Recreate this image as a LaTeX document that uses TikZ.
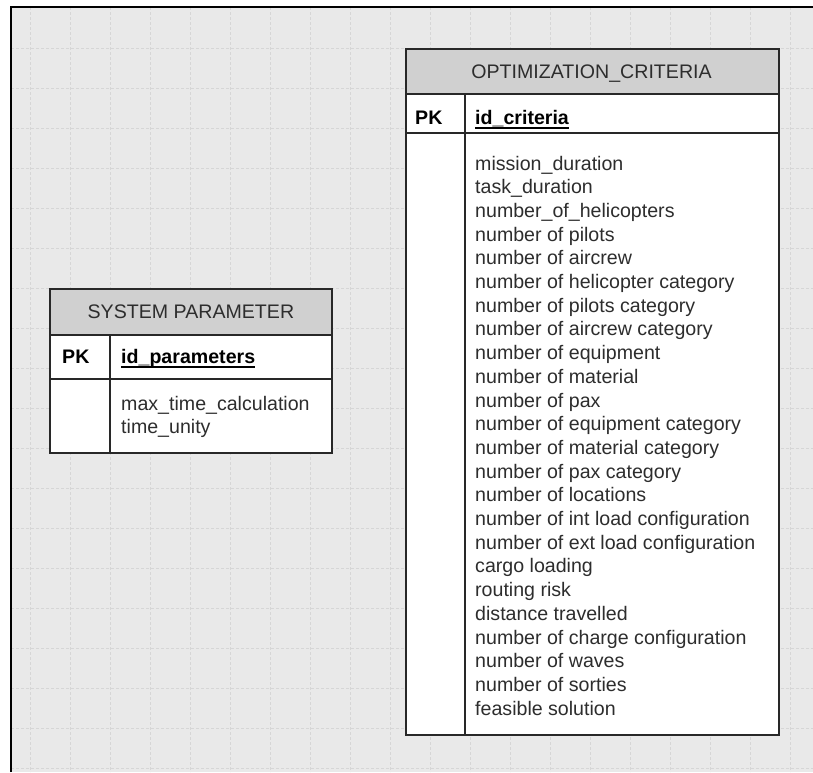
\documentclass[tikz,border=0pt]{standalone}
\usepackage{fontspec}
\setmainfont{Liberation Sans}
\definecolor{canvasbg}{RGB}{233,233,233}
\definecolor{gridclr}{RGB}{214,214,214}
\definecolor{headfill}{RGB}{208,208,208}
\definecolor{edgeclr}{RGB}{40,40,40}
\definecolor{inkclr}{RGB}{45,45,45}
\begin{document}
\begin{tikzpicture}[x=1pt,y=-1pt,
  gridline/.style={draw=gridclr,line width=1pt,dash pattern=on 3pt off 2pt},
  frameline/.style={draw=black,line width=2.6pt},
  tabcell/.style={draw=edgeclr,line width=1.8pt,fill=white,inner sep=0pt,anchor=north west},
  tabhead/.style={tabcell,fill=headfill,text=inkclr,font=\fontsize{19.6}{23.7}\selectfont},
  divider/.style={draw=edgeclr,line width=1.8pt},
  keytxt/.style={anchor=base west,inner sep=0pt,text=black,font=\fontsize{19.6}{23.7}\selectfont\bfseries},
  fieldtxt/.style={anchor=base west,inner sep=0pt,text=inkclr,font=\fontsize{19.6}{23.7}\selectfont},
  keyline/.style={draw=black,line width=1.2pt}]
\useasboundingbox (0,0) rectangle (813,772);
\fill[white] (0,0) rectangle (813,772);
\fill[canvasbg] (11,7) rectangle (813,772);
% background grid
\foreach \gx in {30,70,...,790} \draw[gridline] (\gx,7) -- (\gx,772);
\foreach \gy in {48,88,...,768} \draw[gridline] (11,\gy) -- (813,\gy);
% frame on top and left
\draw[frameline] (11,772) -- (11,7) -- (813,7);

% ---------- SYSTEM PARAMETER ----------
\node[tabcell,minimum width=282pt,minimum height=44pt] (sp-key) at (49,334) {};
\node[tabcell,minimum width=282pt,minimum height=74pt] (sp-body) at (49,378) {};
\node[tabhead,minimum width=282pt,minimum height=46pt] (sp-head) at (49,288) {SYSTEM PARAMETER};
\draw[divider] ([xshift=61pt]sp-key.north west) -- ([xshift=61pt]sp-body.south west);
\node[keytxt] (sp-pk) at (62,363) {PK};
\node[keytxt] (sp-id) at (121,363) {id\_parameters};
\draw[keyline] ([yshift=-4pt]sp-id.base west) -- ([yshift=-4pt]sp-id.base east);
\node[fieldtxt] (sp-f1) at (121,410) {max\_time\_calculation};
\node[fieldtxt] (sp-f2) at (121,433.5) {time\_unity};

% ---------- OPTIMIZATION_CRITERIA ----------
\node[tabcell,minimum width=373pt,minimum height=39pt] (oc-key) at (405,93) {};
\node[tabcell,minimum width=373pt,minimum height=602pt] (oc-body) at (405,132) {};
\node[tabhead,minimum width=373pt,minimum height=45pt] (oc-head) at (405,48) {};
\node[fieldtxt,anchor=base] (oc-title) at (591.5,78) {OPTIMIZATION\_CRITERIA};
\draw[divider] ([xshift=60pt]oc-key.north west) -- ([xshift=60pt]oc-body.south west);
\node[keytxt] (oc-pk) at (415,124) {PK};
\node[keytxt] (oc-id) at (475,124) {id\_criteria};
\draw[keyline] ([yshift=-4pt]oc-id.base west) -- ([yshift=-4pt]oc-id.base east);
\foreach \txt [count=\i from 0] in {
  mission\_duration,
  task\_duration,
  number\_of\_helicopters,
  number of pilots,
  number of aircrew,
  number of helicopter category,
  number of pilots category,
  number of aircrew category,
  number of equipment,
  number of material,
  number of pax,
  number of equipment category,
  number of material category,
  number of pax category,
  number of locations,
  number of int load configuration,
  number of ext load configuration,
  cargo loading,
  routing risk,
  distance travelled,
  number of charge configuration,
  number of waves,
  number of sorties,
  feasible solution}
  \node[fieldtxt] (oc-f\i) at (475,170+23.7*\i) {\txt};
\end{tikzpicture}
\end{document}
